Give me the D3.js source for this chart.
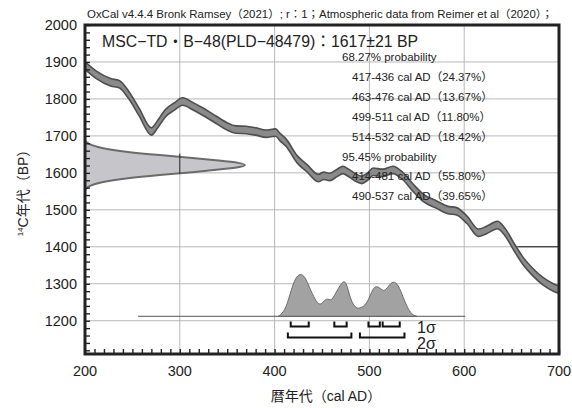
<!DOCTYPE html>
<html>
<head>
<meta charset="utf-8">
<script src="https://cdn.jsdelivr.net/npm/d3@7"></script>
<style>
  body { margin: 0; background: #fff; }
  svg { font-family: "Liberation Sans", "Noto Sans CJK JP", sans-serif; }
</style>
</head>
<body>
<div id="chart"></div>
<script>
// calibration curve (IntCal20), centre line
const calYears = [200, 212, 227, 236, 246, 257, 270, 277, 285, 294, 303, 314, 324, 335, 349, 359, 370, 380, 391, 401,
    406, 412, 424, 434, 446, 452, 458, 466, 472, 478, 485, 492, 498, 504, 514, 525, 535, 546, 557, 571,
    582, 592, 603, 615, 624, 635, 643, 652, 662, 673, 683, 694, 700]
const calBP = [1890, 1865, 1845, 1840, 1811, 1765, 1712, 1733, 1762, 1779, 1793, 1780, 1766, 1749, 1727, 1717, 1716, 1712, 1706, 1709,
    1696, 1682, 1636, 1613, 1586, 1592, 1589, 1600, 1608, 1600, 1588, 1581, 1590, 1603, 1600, 1608, 1592, 1560, 1532, 1514,
    1500, 1496, 1473, 1438, 1446, 1459, 1440, 1402, 1362, 1330, 1307, 1290, 1284]
const calSigma = 10

// measured date 1617±21 BP, drawn on the y axis
const c14BP = [1554, 1562, 1575, 1586, 1594, 1602, 1609, 1615, 1621, 1627, 1633, 1640, 1648, 1656, 1667, 1680, 1688]
const c14Prob = [0, 0.012, 0.09, 0.26, 0.46, 0.67, 0.83, 0.96, 1, 0.96, 0.83, 0.67, 0.46, 0.26, 0.09, 0.012, 0]

// calibrated distribution
const distYears = [404, 411, 416, 421.5, 427, 432, 437, 442.6, 448, 453, 456.6, 460, 465.4, 472.5, 476, 479.5, 484.8, 490, 497,
    502.4, 506, 511, 515.4, 520, 525, 530.5, 535.8, 541, 546, 550]
const distProb = [0, 0.12, 0.5, 0.89, 1, 0.93, 0.66, 0.39, 0.23, 0.39, 0.41, 0.35, 0.58, 0.85, 0.77, 0.43, 0.19, 0.18, 0.27,
    0.58, 0.71, 0.67, 0.56, 0.7, 0.83, 0.74, 0.43, 0.157, 0.02, 0]

const sigma1 = [[417, 436], [463, 476], [499, 511], [514, 532]]
const sigma2 = [[414, 481], [490, 537]]

const probLines = [
    {text: '68.27% probability', indent: false},
    {text: '417-436 cal AD（24.37%）', indent: true},
    {text: '463-476 cal AD（13.67%）', indent: true},
    {text: '499-511 cal AD（11.80%）', indent: true},
    {text: '514-532 cal AD（18.42%）', indent: true},
    {text: '95.45% probability', indent: false},
    {text: '414-481 cal AD（55.80%）', indent: true},
    {text: '490-537 cal AD（39.65%）', indent: true}
]

const xTicks = [200, 300, 400, 500, 600, 700]
const yTicks = [1200, 1300, 1400, 1500, 1600, 1700, 1800, 1900, 2000]

const headerText = 'OxCal v4.4.4 Bronk Ramsey（2021）; r：1；Atmospheric data from Reimer et al（2020）；'
const titleText = 'MSC−TD・B−48(PLD−48479)：1617±21 BP'

const width = 572, height = 408
const margin = {left: 85, right: 559, top: 25, bottom: 354}

const svg = d3.select('#chart').append('svg')
    .attr('width', width)
    .attr('height', height)

const x = d3.scaleLinear().domain([200, 700]).range([margin.left, margin.right])
const y = d3.scaleLinear().domain([1110, 2000]).range([margin.bottom, margin.top])

// grid
const grid = svg.append('g')
grid.selectAll('line.h')
    .data(yTicks.filter(d => d < 2000))
    .join('line')
    .attr('x1', margin.left).attr('x2', margin.right)
    .attr('y1', d => y(d)).attr('y2', d => y(d))
    .style('stroke', '#b8b8b8').style('stroke-width', 1)
grid.selectAll('line.v')
    .data(xTicks.filter(d => d > 200 && d < 700))
    .join('line')
    .attr('x1', d => x(d)).attr('x2', d => x(d))
    .attr('y1', margin.top).attr('y2', margin.bottom)
    .style('stroke', '#b8b8b8').style('stroke-width', 1)

// odd black segment at 1400 near right edge
svg.append('line')
    .attr('x1', x(656)).attr('x2', x(700))
    .attr('y1', y(1400)).attr('y2', y(1400))
    .style('stroke', '#111').style('stroke-width', 1)

// measured date on the y axis
const pdX = d3.scaleLinear().domain([0, 1]).range([margin.left, 247])
const c14 = c14BP.map((d, i) => ({bp: d, p: c14Prob[i]}))
svg.append('path')
    .datum(c14)
    .attr('d', d3.area()
        .y(d => y(d.bp))
        .x0(margin.left)
        .x1(d => pdX(d.p))
        .curve(d3.curveBasis))
    .style('fill', '#c6c6ca')
svg.append('path')
    .datum(c14)
    .attr('d', d3.line()
        .y(d => y(d.bp))
        .x(d => pdX(d.p))
        .curve(d3.curveBasis))
    .style('fill', 'none')
    .style('stroke', '#6b6b6b')
    .style('stroke-width', 2)

// grid segment through the distribution drawn darker
svg.append('line')
    .attr('x1', x(300)).attr('x2', x(300))
    .attr('y1', y(1652)).attr('y2', y(1598))
    .style('stroke', '#222').style('stroke-width', 1)

// calibration curve band
const cal = calYears.map((d, i) => ({year: d, bp: calBP[i]}))
svg.append('path')
    .datum(cal)
    .attr('d', d3.area()
        .x(d => x(d.year))
        .y0(d => y(d.bp - calSigma))
        .y1(d => y(d.bp + calSigma))
        .curve(d3.curveMonotoneX))
    .style('fill', '#8a8a8a')
    .style('stroke', '#4e4e4e')
    .style('stroke-width', 1.6)

// calibrated distribution
const baseBP = 1212
const distH = d3.scaleLinear().domain([0, 1]).range([y(baseBP), y(baseBP) - 43])
svg.append('line')
    .attr('x1', x(256)).attr('x2', x(601))
    .attr('y1', distH(0)).attr('y2', distH(0))
    .style('stroke', '#555').style('stroke-width', 1)
svg.append('path')
    .datum(distYears.map((d, i) => ({year: d, p: distProb[i]})))
    .attr('d', d3.area()
        .x(d => x(d.year))
        .y0(distH(0))
        .y1(d => distH(d.p))
        .curve(d3.curveBasis))
    .style('fill', '#a2a2a2')
    .style('stroke', '#555')
    .style('stroke-width', 0.8)

// sigma brackets
function brackets(ranges, yTop, yBot) {
    svg.append('g').selectAll('path')
        .data(ranges)
        .join('path')
        .attr('d', d => `M${x(d[0])},${yTop}V${yBot}H${x(d[1])}V${yTop}`)
        .style('fill', 'none')
        .style('stroke', '#111')
        .style('stroke-width', 2)
}
brackets(sigma1, 321.5, 326.5)
brackets(sigma2, 332.5, 337.5)

svg.append('text').attr('x', 417).attr('y', 333)
    .style('font-size', '16px').style('fill', '#222').text('1σ')
svg.append('text').attr('x', 417).attr('y', 349)
    .style('font-size', '16px').style('fill', '#222').text('2σ')

// frame and ticks
const xMinor = d3.axisBottom(x).tickValues(d3.range(200, 701, 10)).tickSize(-5).tickFormat('')
const yMinor = d3.axisLeft(y).tickValues(d3.range(1120, 2001, 20)).tickSize(-5).tickFormat('')
const xAx = svg.append('g').attr('transform', `translate(0, ${margin.bottom})`).call(xMinor)
const yAx = svg.append('g').attr('transform', `translate(${margin.left}, 0)`).call(yMinor)
xAx.select('.domain').remove()
yAx.select('.domain').remove()
svg.selectAll('.tick line').style('stroke', '#222').style('stroke-width', 1.4)

svg.append('rect')
    .attr('x', margin.left).attr('y', margin.top)
    .attr('width', margin.right - margin.left)
    .attr('height', margin.bottom - margin.top)
    .style('fill', 'none')
    .style('stroke', '#222')
    .style('stroke-width', 3)

// tick labels
svg.append('g').selectAll('text')
    .data(xTicks)
    .join('text')
    .attr('x', d => x(d))
    .attr('y', 376)
    .style('text-anchor', 'middle')
    .style('font-size', '14.5px')
    .style('fill', '#222')
    .text(d => d)
svg.append('g').selectAll('text')
    .data(yTicks)
    .join('text')
    .attr('x', 77)
    .attr('y', d => y(d) + 5)
    .style('text-anchor', 'end')
    .style('font-size', '14.5px')
    .style('fill', '#222')
    .text(d => d)

// axis titles
svg.append('text')
    .attr('x', 326).attr('y', 401)
    .style('text-anchor', 'middle')
    .style('font-size', '14px')
    .style('fill', '#222')
    .text('暦年代（cal AD）')

const yTitle = svg.append('text')
    .attr('transform', `translate(28, ${(margin.top + margin.bottom) / 2}) rotate(-90)`)
    .style('text-anchor', 'middle')
    .style('font-size', '14px')
    .style('fill', '#222')
yTitle.append('tspan').style('font-size', '8px').attr('dy', -5).text('14')
yTitle.append('tspan').attr('dy', 5).text('C年代（BP）')

// header and title
svg.append('text')
    .attr('x', 87).attr('y', 18)
    .attr('textLength', 466)
    .attr('lengthAdjust', 'spacingAndGlyphs')
    .style('font-size', '11px')
    .style('fill', '#222')
    .text(headerText)

svg.append('text')
    .attr('x', 102).attr('y', 47)
    .attr('textLength', 316)
    .attr('lengthAdjust', 'spacingAndGlyphs')
    .style('font-size', '16px')
    .style('fill', '#222')
    .text(titleText)

svg.append('g').selectAll('text')
    .data(probLines)
    .join('text')
    .attr('x', d => d.indent ? 352 : 342)
    .attr('y', (d, i) => 61 + i * 19.9)
    .style('font-size', '11.5px')
    .style('fill', '#222')
    .text(d => d.text)
</script>
</body>
</html>
